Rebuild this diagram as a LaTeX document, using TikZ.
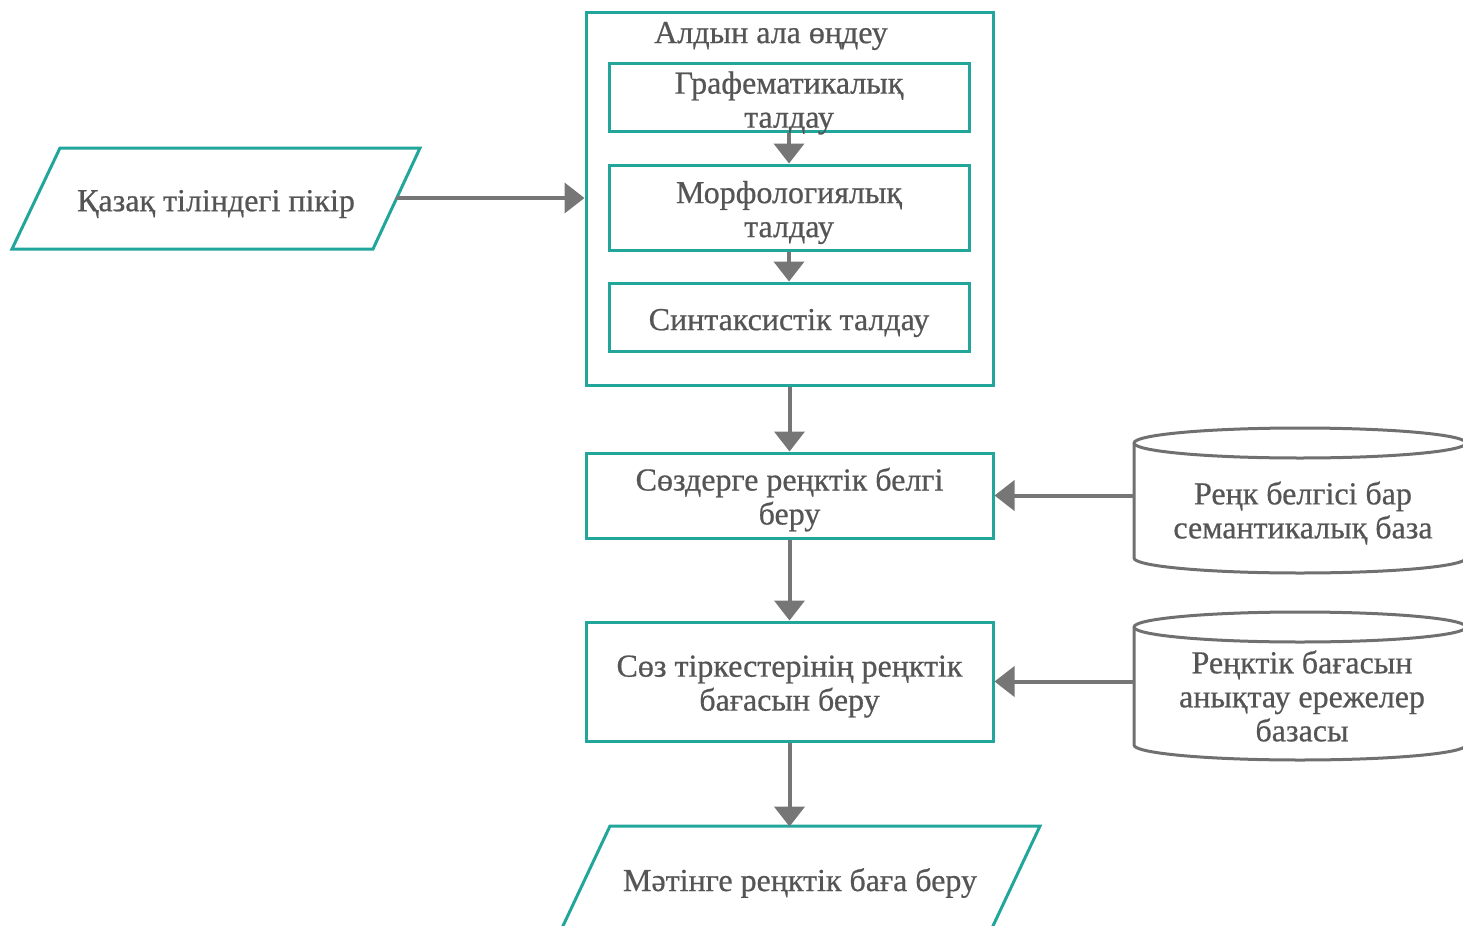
\documentclass[tikz,border=0pt]{standalone}
\usepackage{fontspec}
\setmainfont{Liberation Serif}
\newfontfamily\heavyserif{Liberation Serif}[FakeBold=0.6]
\usetikzlibrary{arrows.meta}
\definecolor{tealline}{HTML}{22A69C}
\definecolor{arrowgray}{HTML}{767676}
\definecolor{txtgray}{HTML}{555555}
\definecolor{dbgray}{HTML}{707070}
\begin{document}
\begin{tikzpicture}[x=0.5pt,y=-0.5pt,
  txt/.style={text=txtgray,align=center,font=\heavyserif\fontsize{16}{17}\selectfont,inner sep=0pt},
  box/.style={draw=tealline,line width=1.5pt,fill=white,inner sep=0pt},
  ghost/.style={inner sep=0pt},
  flow/.style={draw=arrowgray,line width=2pt,-{Triangle[width=15pt,length=10pt]}},
  para/.style={draw=tealline,line width=1.5pt,fill=white,line join=miter},
  db/.style={draw=dbgray,line width=1.5pt,fill=white}
]
\useasboundingbox (0,0) rectangle (1463,926);

% input parallelogram
\draw[para] (60,148) -- (420,148) -- (373,249) -- (12,249) -- cycle;
\node[ghost,minimum width=180pt,minimum height=50pt] (in) at (216,198) {};
\node[txt] (intext) at (216,204) {Қазақ тіліндегі пікір};

% outer preprocessing box
\node[box,minimum width=203.5pt,minimum height=186.5pt] (pre) at (789.5,198.5) {};
\node[txt] (title) at (771,36) {Алдын ала өңдеу};
\node[box,minimum width=180pt,minimum height=34pt] (b1) at (789,97) {};
\node[txt] (t1) at (789,103) {Графематикалық\\талдау};
\node[box,minimum width=180pt,minimum height=42.5pt] (b2) at (789,207.5) {};
\node[txt] (t2) at (789,212.5) {Морфологиялық\\талдау};
\node[box,minimum width=180pt,minimum height=34pt] (b3) at (789,317) {};
\node[txt] (t3) at (789,323) {Синтаксистік талдау};

% lower boxes
\node[box,minimum width=203.5pt,minimum height=42.5pt] (b4) at (789.5,495.5) {};
\node[txt] (t4) at (789.5,499.5) {Сөздерге реңктік белгі\\беру};
\node[box,minimum width=203.5pt,minimum height=59.5pt] (b5) at (789.5,681.5) {};
\node[txt] (t5) at (789.5,686.5) {Сөз тіркестерінің реңктік\\бағасын беру};

% output parallelogram
\draw[para] (610,826) -- (1040,826) -- (992,928) -- (562,928) -- cycle;
\node[ghost,minimum width=200pt,minimum height=50pt] (out) at (800,877) {};
\node[txt] (outtext) at (800,883) {Мәтінге реңктік баға беру};

% databases
\draw[db] (1134,443) -- (1134,558) arc[start angle=180,end angle=0,x radius=166,y radius=15]
  -- (1466,443) arc[start angle=0,end angle=-180,x radius=166,y radius=15] -- cycle;
\draw[db] (1134,443) arc[start angle=180,end angle=0,x radius=166,y radius=15];
\node[ghost,minimum width=166pt,minimum height=50pt] (db1) at (1300,500) {};
\node[txt] (d1) at (1303,513) {Реңк белгісі бар\\семантикалық база};

\draw[db] (1134,627) -- (1134,745) arc[start angle=180,end angle=0,x radius=166,y radius=15]
  -- (1466,627) arc[start angle=0,end angle=-180,x radius=166,y radius=15] -- cycle;
\draw[db] (1134,627) arc[start angle=180,end angle=0,x radius=166,y radius=15];
\node[ghost,minimum width=166pt,minimum height=50pt] (db2) at (1300,686) {};
\node[txt] (d2) at (1302,696) {Реңктік бағасын\\анықтау ережелер\\базасы};

% connectors
\draw[flow] (in.east) -- (pre.west |- in.east);
\draw[flow] (b1.south) -- (b2.north);
\draw[flow] (b2.south) -- (b3.north);
\draw[flow] (pre.south) -- (b4.north);
\draw[flow] (b4.south) -- (b5.north);
\draw[flow] (b5.south) -- (b5.south |- out.north);
\draw[flow] (db1.west |- b4.east) -- (b4.east);
\draw[flow] (db2.west |- b5.east) -- (b5.east);
\end{tikzpicture}
\end{document}
